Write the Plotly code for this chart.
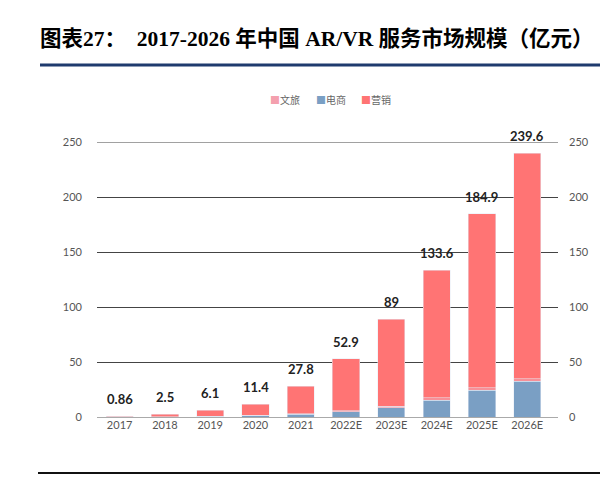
import plotly.graph_objects as go

years = ["2017", "2018", "2019", "2020", "2021", "2022E", "2023E", "2024E", "2025E", "2026E"]
totals = [0.86, 2.5, 6.1, 11.4, 27.8, 52.9, 89, 133.6, 184.9, 239.6]
dianshang = [0.1, 0.3, 0.6, 1.2, 2.5, 5.0, 8.5, 15.4, 24.5, 32.5]
wenlv = [0.03, 0.05, 0.1, 0.2, 0.4, 0.8, 1.2, 2.2, 2.0, 2.5]
yingxiao = [round(t - w - d, 2) for t, w, d in zip(totals, wenlv, dianshang)]
total_labels = ["0.86", "2.5", "6.1", "11.4", "27.8", "52.9", "89", "133.6", "184.9", "239.6"]
y_ticks = [0, 50, 100, 150, 200, 250]
series_names = ["文旅", "电商", "营销"]
series_colors = ["#F4A0AE", "#7A9FC4", "#FF7474"]

W, H = 600, 483
L, R, T, B = 97, 42, 142, 66
pw, ph = W - L - R, H - T - B

def px_x(x):
    return (x - L) / pw

def px_y(y):
    return (H - B - y) / ph

fig = go.Figure()
# stacking order bottom -> top: 电商, 文旅, 营销
fig.add_bar(x=years, y=dianshang, name=series_names[1], marker_color=series_colors[1], width=0.6, showlegend=False)
fig.add_bar(x=years, y=wenlv, name=series_names[0], marker_color="#F79098", width=0.6, showlegend=False)
fig.add_bar(x=years, y=yingxiao, name=series_names[2], marker_color=series_colors[2], width=0.6, showlegend=False)
fig.add_scatter(x=years, y=totals, yaxis="y2", mode="markers",
                marker=dict(opacity=0), showlegend=False, hoverinfo="skip")

for i, (t, lab) in enumerate(zip(totals, total_labels)):
    fig.add_annotation(x=i, y=t, text="<b>" + lab + "</b>", showarrow=False,
                       yshift=17, font=dict(family="Lato, Open Sans, sans-serif", size=13, color="#222"))

# custom compact legend
leg_x = [268, 314, 359]
for lx, name, col in zip(leg_x, series_names, series_colors):
    fig.add_annotation(xref="paper", yref="paper", x=px_x(lx), y=px_y(100), xanchor="left",
                       yanchor="middle", showarrow=False,
                       text="<span style='color:%s'>■</span>%s" % (col, name),
                       font=dict(family="Noto Sans CJK SC", size=10, color="#666"))

fig.update_layout(
    width=W, height=H,
    margin=dict(l=L, r=R, t=T, b=B, autoexpand=False),
    barmode="stack",
    plot_bgcolor="white", paper_bgcolor="white",
    title=dict(text="<b>图表27：  2017-2026 年中国 AR/VR 服务市场规模（亿元）</b>",
               x=40 / W, xanchor="left", y=1 - 38 / H, yanchor="middle", pad=dict(l=0, r=0, t=0, b=0),
               font=dict(family="Liberation Serif, Noto Sans CJK SC", size=21.5, color="#000")),
    showlegend=False,
    xaxis=dict(type="category", range=[-0.5, 9.68], showgrid=False, showline=False, automargin=False,
               ticks="", tickfont=dict(family="Lato, Open Sans, sans-serif", size=11, color="#555")),
    yaxis=dict(range=[0, 250], tickvals=y_ticks, showgrid=True, gridcolor="#444", gridwidth=1,
               zeroline=True, zerolinecolor="#aaa", zerolinewidth=1, ticks="", automargin=False,
               tickfont=dict(family="Lato, Open Sans, sans-serif", size=11, color="#555"), ticklabelstandoff=14),
    yaxis2=dict(range=[0, 250], tickvals=y_ticks, overlaying="y", side="right", showgrid=False,
                zeroline=False, ticks="", ticklabelstandoff=10, automargin=False,
                tickfont=dict(family="Lato, Open Sans, sans-serif", size=11, color="#555")),
    shapes=[
        dict(type="line", xref="paper", yref="y", x0=0, x1=1, y0=y_ticks[-1], y1=y_ticks[-1],
             line=dict(color="#444", width=1), layer="below"),
        dict(type="line", xref="paper", yref="paper", x0=px_x(40), x1=px_x(600), y0=px_y(65), y1=px_y(65),
             line=dict(color="#1F3B6E", width=3)),
        dict(type="line", xref="paper", yref="paper", x0=px_x(38), x1=px_x(600), y0=px_y(473), y1=px_y(473),
             line=dict(color="#111", width=2)),
    ],
)

fig.write_html("out.html", config={"displayModeBar": False},
               post_script="document.body.style.margin='0';")
